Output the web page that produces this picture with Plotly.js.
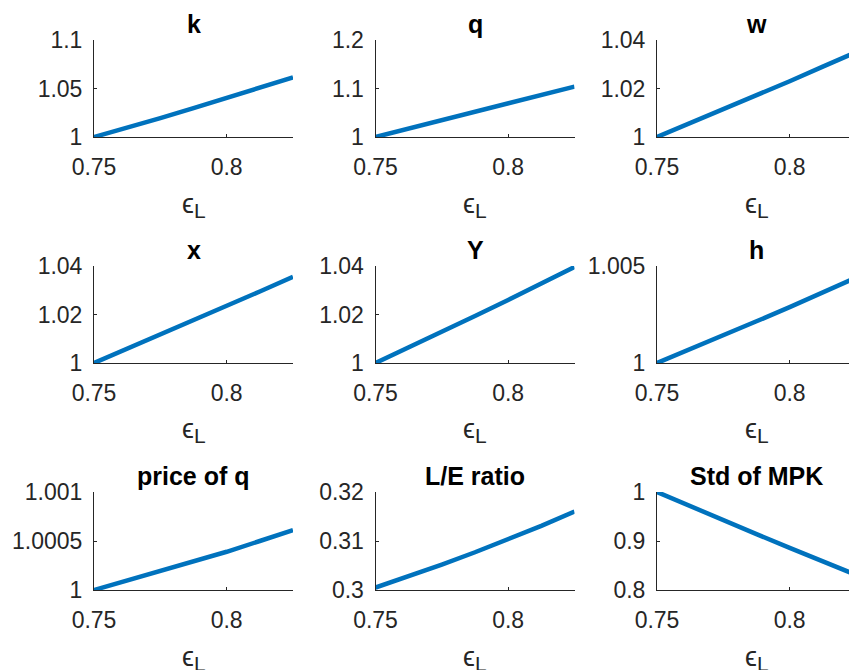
<!DOCTYPE html>
<html><head><meta charset="utf-8">
<script src="https://cdn.plot.ly/plotly-3.0.1.min.js"></script>
<style>html,body{margin:0;padding:0;overflow:hidden;background:#fff}#chart{width:860px;height:670px}</style>
</head><body><div id="chart"></div><script>
// x values: epsilon_L
const epsL = [0.75, 0.7625, 0.775, 0.7875, 0.80, 0.8125, 0.825];
// series (normalised)
const kVals   = [1, 1.0095, 1.0195, 1.0298, 1.0403, 1.0508, 1.0615];
const qVals   = [1, 1.017, 1.034, 1.051, 1.068, 1.086, 1.104];
const wVals   = [1, 1.0057, 1.0114, 1.0172, 1.0230, 1.0290, 1.0350];
const xVals   = [1, 1.0058, 1.0116, 1.0175, 1.0235, 1.0295, 1.0355];
const YVals   = [1, 1.0063, 1.0128, 1.0194, 1.0260, 1.0328, 1.0396];
const hVals   = [1, 1.0007, 1.0014, 1.00215, 1.00288, 1.00362, 1.00440];
const pqVals  = [1, 1.000095, 1.00019, 1.00029, 1.00039, 1.0005, 1.00061];
const leVals  = [0.3005, 0.3028, 0.3052, 0.3077, 0.3103, 0.3131, 0.3160];
const mpkVals = [1, 0.9705, 0.942, 0.914, 0.886, 0.859, 0.831];

const titles = ['k', 'q', 'w', 'x', 'Y', 'h', 'price of q', 'L/E ratio', 'Std of MPK'];
const series = [kVals, qVals, wVals, xVals, YVals, hVals, pqVals, leVals, mpkVals];
const yRanges = [[1, 1.1], [1, 1.2], [1, 1.04], [1, 1.04], [1, 1.04], [1, 1.005], [1, 1.001], [0.3, 0.32], [0.8, 1]];
const yTickVals = [[1, 1.05, 1.1], [1, 1.1, 1.2], [1, 1.02, 1.04], [1, 1.02, 1.04], [1, 1.02, 1.04], [1, 1.005], [1, 1.0005, 1.001], [0.3, 0.31, 0.32], [0.8, 0.9, 1]];
const yTickText = [['1', '1.05', '1.1'], ['1', '1.1', '1.2'], ['1', '1.02', '1.04'], ['1', '1.02', '1.04'], ['1', '1.02', '1.04'], ['1', '1.005'], ['1', '1.0005', '1.001'], ['0.3', '0.31', '0.32'], ['0.8', '0.9', '1']];
const xTickVals = [0.75, 0.8];
const xTickText = ['0.75', '0.8'];
const xRange = [0.75, 0.825];
const xLabel = '<span style="font-size:27px">ϵ</span><sub><span style="font-size:21px">L</span></sub>';

const W = 860, H = 670;
const colLeft = [94, 375.5, 657];
const plotW = 199;
const rowTop = [40, 266, 492];
const rowBot = [137, 363, 590];
const axCol = '#262626';
const font = 'Liberation Sans, Arial, Helvetica, sans-serif';

const data = [];
const layout = {
  width: W, height: H,
  margin: {l: 0, r: 0, t: 0, b: 0},
  paper_bgcolor: '#fff', plot_bgcolor: '#fff',
  showlegend: false,
  font: {family: font, color: axCol},
  annotations: []
};

for (let i = 0; i < 9; i++) {
  const r = Math.floor(i / 3), c = i % 3;
  const n = i === 0 ? '' : String(i + 1);
  data.push({
    x: epsL, y: series[i], type: 'scatter', mode: 'lines',
    line: {color: '#0072BD', width: 4.5},
    xaxis: 'x' + n, yaxis: 'y' + n, hoverinfo: 'skip'
  });
  const xd = [colLeft[c] / W, (colLeft[c] + plotW) / W];
  const yd = [(H - rowBot[r]) / H, (H - rowTop[r]) / H];
  layout['xaxis' + n] = {
    domain: xd, range: xRange, anchor: 'y' + n,
    showline: true, linecolor: axCol, linewidth: 1,
    showgrid: false, zeroline: false,
    ticks: 'inside', ticklen: 3, tickcolor: axCol, tickwidth: 1,
    tickvals: xTickVals, ticktext: xTickText,
    tickfont: {family: font, size: 23, color: axCol},
    ticklabelstandoff: 9, fixedrange: true
  };
  layout['yaxis' + n] = {
    domain: yd, range: yRanges[i], anchor: 'x' + n,
    showline: true, linecolor: axCol, linewidth: 1,
    showgrid: false, zeroline: false,
    ticks: 'inside', ticklen: 3, tickcolor: axCol, tickwidth: 1,
    tickvals: yTickVals[i], ticktext: yTickText[i],
    tickfont: {family: font, size: 23, color: axCol},
    ticklabelstandoff: 6, fixedrange: true
  };
  const cx = (colLeft[c] + plotW / 2) / W;
  layout.annotations.push({
    text: '<b>' + titles[i] + '</b>', xref: 'paper', yref: 'paper',
    x: cx, y: (H - rowTop[r]) / H, xanchor: 'center', yanchor: 'bottom', yshift: 0,
    showarrow: false, font: {family: font, size: 25, color: '#000'}
  });
  layout.annotations.push({
    text: xLabel, xref: 'paper', yref: 'paper',
    x: cx, y: (H - rowBot[r] - 68) / H, xanchor: 'center', yanchor: 'middle',
    showarrow: false, font: {family: font, size: 23, color: axCol}
  });
}

Plotly.newPlot('chart', data, layout, {displayModeBar: false, staticPlot: true});
</script></body></html>
